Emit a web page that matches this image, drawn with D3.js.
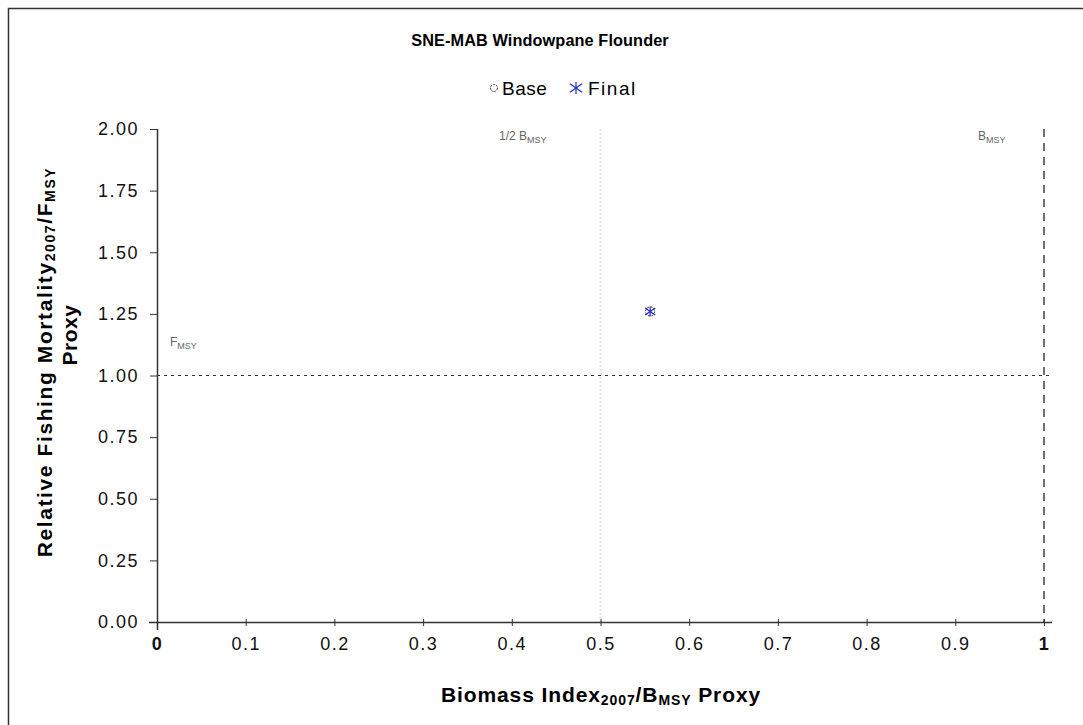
<!DOCTYPE html>
<html><head><meta charset="utf-8">
<script src="https://cdn.jsdelivr.net/npm/d3@7"></script>
<style>body{margin:0;background:#fff}svg{display:block;font-family:"Liberation Sans",Arial,sans-serif}</style>
</head><body>
<svg id="c" width="1083" height="725"></svg>
<script>
const xTicks = [0,0.1,0.2,0.3,0.4,0.5,0.6,0.7,0.8,0.9,1];
const xTickLabels = ["0","0.1","0.2","0.3","0.4","0.5","0.6","0.7","0.8","0.9","1"];
const yTicks = [0,0.25,0.5,0.75,1,1.25,1.5,1.75,2];
const yTickLabels = ["0.00","0.25","0.50","0.75","1.00","1.25","1.50","1.75","2.00"];
const baseX = [0.556], baseY = [1.26];
const finalX = [0.556], finalY = [1.26];
const refB = [0.5, 1.0];
const refF = [1.0];

const svg = d3.select("#c");
const x = d3.scaleLinear().domain([0,1]).range([157,1044]);
const y = d3.scaleLinear().domain([0,2]).range([622,129]);

// outer frame (top and left)
svg.append("path").attr("d","M8.5,730 V8.5 H1090").attr("fill","none").attr("stroke","#333").attr("stroke-width",1.5);

// title
svg.append("text").attr("x",540).attr("y",46).attr("text-anchor","middle")
  .attr("font-size",16.3).attr("font-weight","bold").attr("letter-spacing",0.1).text("SNE-MAB Windowpane Flounder");

// legend
const lg = svg.append("g").attr("font-size",19);
lg.append("circle").attr("cx",494).attr("cy",88).attr("r",3.5).attr("fill","none").attr("stroke","#333").attr("stroke-dasharray","2,1");
lg.append("text").attr("x",502).attr("y",95).attr("letter-spacing",0.5).text("Base");
const ast = (g,cx,cy,s)=>{
  [[0,-s,0,s],[-s,-s*0.7,s,s*0.7],[-s,s*0.7,s,-s*0.7]].forEach(d=>{
    g.append("line").attr("x1",cx+d[0]).attr("y1",cy+d[1]).attr("x2",cx+d[2]).attr("y2",cy+d[3])
     .attr("stroke","#2222cc").attr("stroke-width",1.2);
  });
};
ast(lg,576,88,6);
lg.append("text").attr("x",588).attr("y",95).attr("letter-spacing",1.5).text("Final");

// reference lines
svg.append("line").attr("x1",x(refB[0])).attr("x2",x(refB[0])).attr("y1",y(2)).attr("y2",y(0))
  .attr("stroke","#e4e4e4").attr("stroke-width",2).attr("stroke-dasharray","2,2");
svg.append("line").attr("x1",x(refB[1])).attr("x2",x(refB[1])).attr("y1",y(2)).attr("y2",y(0))
  .attr("stroke","#222").attr("stroke-width",1.3).attr("stroke-dasharray","8,6");
svg.append("line").attr("x1",x(0)).attr("x2",x(1)+6).attr("y1",y(refF[0])).attr("y2",y(refF[0]))
  .attr("stroke","#333").attr("stroke-width",1.2).attr("stroke-dasharray","3,4");

// axes
const xAxis = d3.axisBottom(x).tickValues(xTicks).tickFormat((d,i)=>xTickLabels[i]).tickSize(6).tickSizeOuter(0);
const gx = svg.append("g").attr("transform",`translate(0,${y(0)})`).call(xAxis);
gx.select(".domain").attr("d",`M${x(0)-8},0.5H${x(1)+8}`).attr("stroke","#333").attr("stroke-width",1.5);
gx.selectAll(".tick line").attr("y1",-3).attr("y2",4).attr("stroke","#333");
gx.selectAll(".tick text").attr("font-size",18).attr("letter-spacing",1.5).attr("font-family","Liberation Sans, Arial, sans-serif").attr("fill","#111").attr("dy","1.05em");
gx.selectAll(".tick text").filter(d=>d===0||d===1).attr("font-weight","bold");

const yAxis = d3.axisLeft(y).tickValues(yTicks).tickFormat((d,i)=>yTickLabels[i]).tickSize(6).tickSizeOuter(0);
const gy = svg.append("g").attr("transform",`translate(${x(0)},0)`).call(yAxis);
gy.select(".domain").attr("d",`M0.5,${y(2)}V${y(0)+8}`).attr("stroke","#333").attr("stroke-width",1.5);
gy.selectAll(".tick line").attr("x1",-7).attr("x2",0).attr("stroke","#333");
gy.selectAll(".tick text").attr("font-size",18).attr("letter-spacing",1.5).attr("font-family","Liberation Sans, Arial, sans-serif").attr("fill","#111").attr("x",-18);

// reference labels
const small = (xx,yy,main,sub)=>{
  const t = svg.append("text").attr("x",xx).attr("y",yy).attr("font-size",12).attr("fill","#666");
  t.append("tspan").text(main);
  t.append("tspan").attr("font-size",9).attr("dy",3).text(sub);
};
small(170,346,"F","MSY");
small(499,140,"1/2 B","MSY");
small(978,140,"B","MSY");

// points
svg.append("g").selectAll("circle").data(baseX).join("circle")
  .attr("cx",(d,i)=>x(d)).attr("cy",(d,i)=>y(baseY[i])).attr("r",4.5)
  .attr("fill","none").attr("stroke","#333").attr("stroke-width",1).attr("stroke-dasharray","2,1.5");
const fg = svg.append("g");
finalX.forEach((d,i)=>ast(fg,x(d),y(finalY[i]),5));

// axis titles
const xt = svg.append("text").attr("x",601).attr("y",702).attr("text-anchor","middle").attr("font-size",21).attr("font-weight","bold").attr("letter-spacing",0.9);
xt.append("tspan").text("Biomass Index");
xt.append("tspan").attr("font-size",14).attr("dy",3).text("2007");
xt.append("tspan").attr("dy",-3).text("/B");
xt.append("tspan").attr("font-size",14).attr("dy",3).text("MSY");
xt.append("tspan").attr("dy",-3).text(" Proxy");

const yt = svg.append("g").attr("transform","translate(52,362) rotate(-90)");
const y1 = yt.append("text").attr("x",0).attr("y",0).attr("text-anchor","middle").attr("font-size",21).attr("font-weight","bold").attr("letter-spacing",1.6);
y1.append("tspan").text("Relative Fishing Mortality");
y1.append("tspan").attr("font-size",14).attr("dy",3).text("2007");
y1.append("tspan").attr("dy",-3).text("/F");
y1.append("tspan").attr("font-size",14).attr("dy",3).text("MSY");
yt.append("text").attr("x",27).attr("y",25).attr("text-anchor","middle").attr("font-size",21).attr("font-weight","bold").attr("letter-spacing",0.5).text("Proxy");
</script>
</body></html>
